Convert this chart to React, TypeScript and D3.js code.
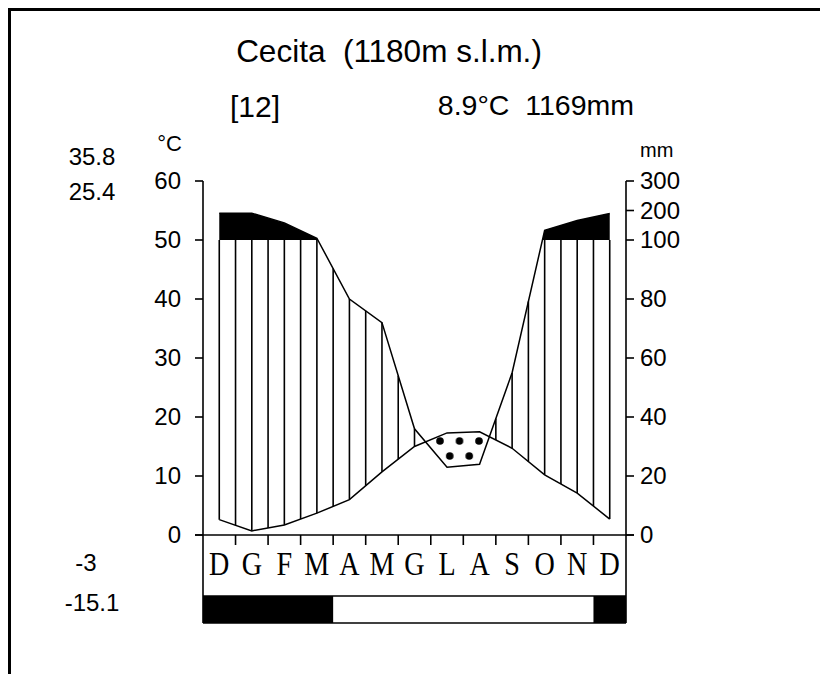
import React from "react";
import * as d3 from "d3";

// ---- data ----
const months = ["D", "G", "F", "M", "A", "M", "G", "L", "A", "S", "O", "N", "D"];
const temperature = [2.6, 0.7, 1.7, 3.7, 6.0, 10.7, 15.0, 17.3, 17.5, 14.7, 10.2, 7.1, 2.7];
const precipitation = [191, 191, 158, 106, 80, 72, 36, 23, 24, 55, 133, 166, 190];
const frost = [1, 1, 1, 1, 0, 0, 0, 0, 0, 0, 0, 0, 1];
const tempTicks = [0, 10, 20, 30, 40, 50, 60];
const precipTicks = [0, 20, 40, 60, 80, 100, 200, 300];
const title = "Cecita  (1180m s.l.m.)";
const yearsLabel = "[12]";
const summaryLabel = "8.9°C  1169mm";
const extremesTop = ["35.8", "25.4"];
const extremesBottom = ["-3", "-15.1"];

const W = 820;
const H = 674;
const SANS = "'Liberation Sans', Arial, sans-serif";
const SERIF = "'Liberation Serif', 'Times New Roman', serif";

// precipitation -> temperature-equivalent (Walter-Lieth)
const eq = (p: number) => (p <= 100 ? p / 2 : 50 + (p - 100) / 20);

export default function App() {
  const idx = d3.range(months.length);
  const x = d3.scaleBand<number>().domain(idx).range([203, 626]).paddingInner(0).paddingOuter(0);
  const bw = x.bandwidth();
  const cx = (i: number) => (x(i) as number) + bw / 2;
  const yT = d3.scaleLinear().domain([0, 60]).range([535, 181]);
  const yP = (p: number) => yT(eq(p));

  const left = 203;
  const right = 626;
  const y0 = yT(0);
  const y50 = yT(50);

  const tempLine = d3.line<number>().x((i) => cx(i)).y((i) => yT(temperature[i]))(idx) as string;
  const precLine = d3.line<number>().x((i) => cx(i)).y((i) => yP(precipitation[i]))(idx) as string;
  const blackArea = d3
    .area<number>()
    .x((i) => cx(i))
    .y0(y50)
    .y1((i) => yP(precipitation[i]))(idx) as string;
  const dryArea = d3
    .area<number>()
    .x((i) => cx(i))
    .y0((i) => yT(temperature[i]))
    .y1((i) => yP(precipitation[i]))(idx) as string;
  const belowTemp = d3
    .area<number>()
    .x((i) => cx(i))
    .y0(H)
    .y1((i) => yT(temperature[i]))(idx) as string;

  // hatch lines every half month
  const hatch: { x: number; ya: number; yb: number }[] = [];
  for (let k = 0; k <= (months.length - 1) * 2; k++) {
    const pos = k / 2;
    const i0 = Math.floor(pos);
    const i1 = Math.min(i0 + 1, months.length - 1);
    const f = pos - i0;
    const t = temperature[i0] * (1 - f) + temperature[i1] * f;
    const e = eq(precipitation[i0]) * (1 - f) + eq(precipitation[i1]) * f;
    if (e > t) {
      hatch.push({ x: cx(i0) * (1 - f) + cx(i1) * f, ya: yT(Math.min(e, 50)), yb: yT(t) });
    }
  }

  // frost runs (merge consecutive months)
  const runs: { a: number; b: number }[] = [];
  frost.forEach((f, i) => {
    if (!f) return;
    const last = runs[runs.length - 1];
    if (last && last.b === i - 1) last.b = i;
    else runs.push({ a: i, b: i });
  });

  return (
    <svg
      width={W}
      height={H}
      style={{ position: "absolute", left: 0, top: 0, background: "#fff" }}
    >
      <defs>
        <clipPath id="above50">
          <rect x={0} y={0} width={W} height={y50} />
        </clipPath>
        <clipPath id="belowTemp">
          <path d={belowTemp} />
        </clipPath>
        <pattern id="dots" patternUnits="userSpaceOnUse" x={440} y={441} width={19.5} height={30}>
          <circle cx={0} cy={0} r={3.8} fill="#000" />
          <circle cx={19.5} cy={0} r={3.8} fill="#000" />
          <circle cx={9.75} cy={15} r={3.8} fill="#000" />
          <circle cx={0} cy={30} r={3.8} fill="#000" />
          <circle cx={19.5} cy={30} r={3.8} fill="#000" />
        </pattern>
      </defs>
      <rect x={0} y={0} width={W} height={H} fill="#fff" />
      {/* frame */}
      <rect x={9.5} y={9.5} width={W + 20} height={H + 20} fill="none" stroke="#000" strokeWidth={3} />

      {/* titles */}
      <text x={389} y={62} fontFamily={SANS} fontSize={31.5} textAnchor="middle" xmlSpace="preserve">
        {title}
      </text>
      <text x={230} y={117} fontFamily={SANS} fontSize={30} xmlSpace="preserve">
        {yearsLabel}
      </text>
      <text x={634} y={115} fontFamily={SANS} fontSize={28.5} textAnchor="end" xmlSpace="preserve">
        {summaryLabel}
      </text>

      {/* extremes */}
      <text x={92} y={165} fontFamily={SANS} fontSize={24} textAnchor="middle">{extremesTop[0]}</text>
      <text x={92} y={200} fontFamily={SANS} fontSize={24} textAnchor="middle">{extremesTop[1]}</text>
      <text x={86} y={571} fontFamily={SANS} fontSize={24} textAnchor="middle">{extremesBottom[0]}</text>
      <text x={92} y={611} fontFamily={SANS} fontSize={24} textAnchor="middle">{extremesBottom[1]}</text>

      {/* unit labels */}
      <text x={182} y={151} fontFamily={SANS} fontSize={22} textAnchor="end">°C</text>
      <text x={640} y={157} fontFamily={SANS} fontSize={20}>mm</text>

      {/* hatch */}
      <g stroke="#000" strokeWidth={1.6}>
        {hatch.map((h, j) => (
          <line key={j} x1={h.x} x2={h.x} y1={h.ya} y2={h.yb} />
        ))}
      </g>
      {/* wet > 100mm */}
      <path d={blackArea} fill="#000" clipPath="url(#above50)" />
      {/* dry season */}
      <g clipPath="url(#belowTemp)">
        <path d={dryArea} fill="#fff" />
        <path d={dryArea} fill="url(#dots)" />
      </g>
      <path d={tempLine} fill="none" stroke="#000" strokeWidth={1.5} />
      <path d={precLine} fill="none" stroke="#000" strokeWidth={1.5} />

      {/* frost bar */}
      {runs.map((r, j) => (
        <rect
          key={"f" + j}
          x={x(r.a) as number}
          y={596}
          width={(x(r.b) as number) + bw - (x(r.a) as number)}
          height={27}
          fill="#000"
        />
      ))}

      {/* axes */}
      <g stroke="#000" strokeWidth={1.6} fill="none">
        <line x1={left} x2={left} y1={yT(60)} y2={623} />
        <line x1={right} x2={right} y1={yT(60)} y2={623} />
        <line x1={left - 8} x2={right + 8} y1={y0} y2={y0} />
        {tempTicks.map((t) => (
          <line key={"lt" + t} x1={left - 8} x2={left} y1={yT(t)} y2={yT(t)} />
        ))}
        {precipTicks.map((p) => (
          <line key={"rt" + p} x1={right} x2={right + 8} y1={yP(p)} y2={yP(p)} />
        ))}
        {idx.slice(1).map((i) => (
          <line key={"mt" + i} x1={x(i) as number} x2={x(i) as number} y1={y0} y2={y0 + 10} />
        ))}
        <line x1={left} x2={right} y1={596} y2={596} />
        <line x1={left} x2={right} y1={623} y2={623} />
      </g>
      {tempTicks.map((t) => (
        <text key={"tl" + t} x={181} y={yT(t) + 8} fontFamily={SANS} fontSize={24} textAnchor="end">
          {t}
        </text>
      ))}
      {precipTicks.map((p) => (
        <text key={"pl" + p} x={640} y={yP(p) + 8} fontFamily={SANS} fontSize={24}>
          {p}
        </text>
      ))}

      {/* months */}
      {months.map((m, i) => (
        <text
          key={"m" + i}
          transform={`translate(${cx(i)},575) scale(0.88,1.04)`}
          fontFamily={SERIF}
          fontSize={32}
          textAnchor="middle"
        >
          {m}
        </text>
      ))}
    </svg>
  );
}
